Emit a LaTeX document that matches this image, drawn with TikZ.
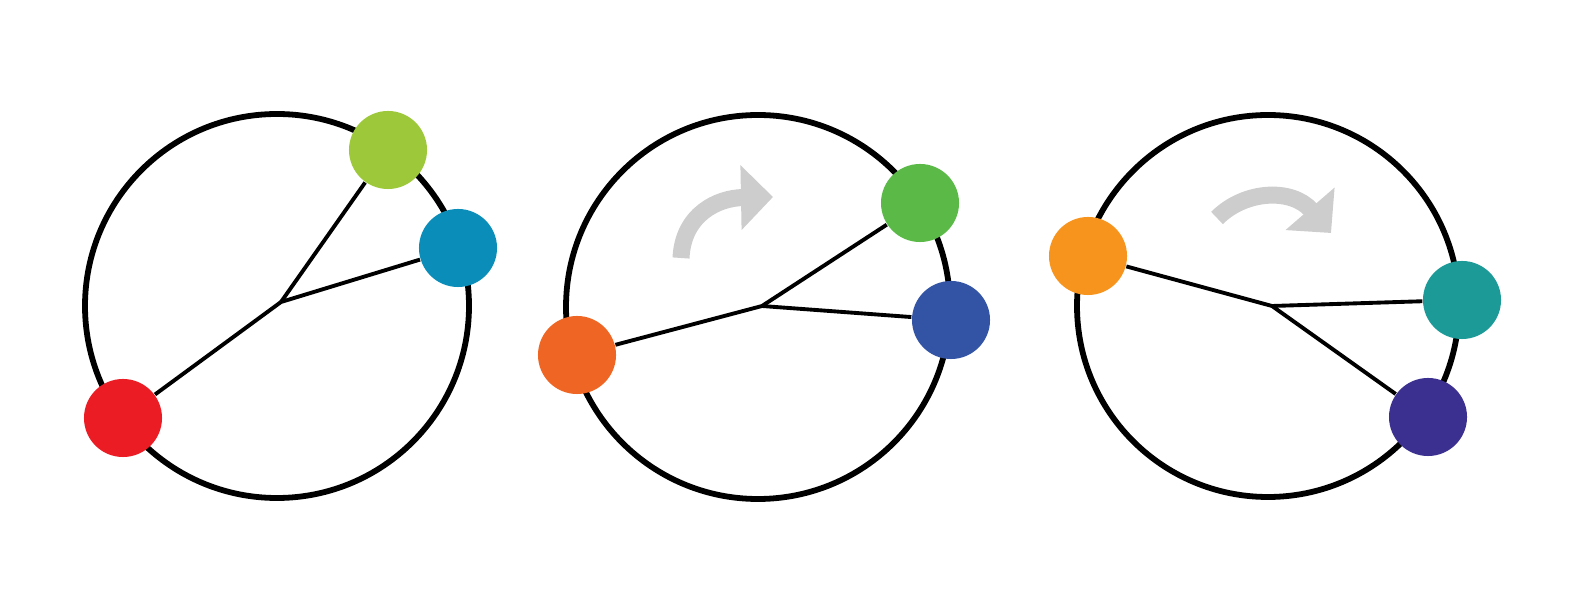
\documentclass[tikz,border=0pt]{standalone}
\usepackage{tikz}
\usetikzlibrary{arrows.meta,positioning,calc}
\usepackage{xcolor}

\definecolor{dotred}{HTML}{EC1C24}
\definecolor{dotlime}{HTML}{9DC83A}
\definecolor{dotcyan}{HTML}{0A8DB8}
\definecolor{dotorange}{HTML}{EF6624}
\definecolor{dotgreen}{HTML}{5BBA47}
\definecolor{dotblue}{HTML}{3354A5}
\definecolor{dotamber}{HTML}{F7941D}
\definecolor{dotteal}{HTML}{1B9A98}
\definecolor{dotpurple}{HTML}{3B2F8F}
\definecolor{turngray}{HTML}{CDCDCD}

\begin{document}
\begin{tikzpicture}[
    x=0.01cm, y=-0.01cm,
    ring/.style={draw=black, line width=1.65pt},
    link/.style={draw=black, line width=1.1pt},
    dot/.style={circle, minimum size=0.78cm, inner sep=0pt},
    turn/.style={draw=turngray, line width=0.17cm,
        -{Triangle[length=0.32cm, width=0.63cm]}}
]
\useasboundingbox (0,0) rectangle (1588,604);

% Circles
\draw[ring] (277,306) circle (192);
\draw[ring] (758,307) circle (192);
\draw[ring] (1268,306) circle (191);

% Dots
\node[dot, fill=dotred] (red) at (123,418) {};
\node[dot, fill=dotlime] (lime) at (388,150) {};
\node[dot, fill=dotcyan] (cyan) at (458,248) {};

\node[dot, fill=dotorange] (orange) at (577,355) {};
\node[dot, fill=dotgreen] (green) at (920,203) {};
\node[dot, fill=dotblue] (blue) at (951,320) {};

\node[dot, fill=dotamber] (amber) at (1088,256) {};
\node[dot, fill=dotteal] (teal) at (1462,300) {};
\node[dot, fill=dotpurple] (purple) at (1428,417) {};

% Junctions
\coordinate (j1) at (281,302);
\coordinate (j2) at (762,306);
\coordinate (j3) at (1272,306);

% Links
\draw[link] (red) -- (j1);
\draw[link] (j1) -- (lime);
\draw[link] (j1) -- (cyan);

\draw[link] (orange) -- (j2);
\draw[link] (j2) -- (green);
\draw[link] (j2) -- (blue);

\draw[link] (amber) -- (j3);
\draw[link] (j3) -- (teal);
\draw[link] (j3) -- (purple);

% Turn arrows
\coordinate (t1s) at (681,258);
\coordinate (t1e) at (773,197);
\draw[turn] (t1s) .. controls (683,214) and (718,198) .. (t1e);

\coordinate (t2s) at (1217,218);
\coordinate (t2e) at (1331,233);
\draw[turn] (t2s) .. controls (1245,190) and (1292,188) .. (t2e);

\end{tikzpicture}
\end{document}
